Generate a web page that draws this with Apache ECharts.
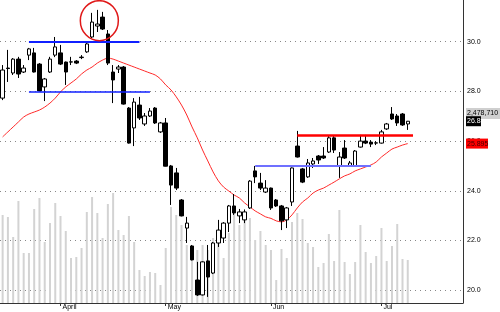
<!DOCTYPE html>
<html>
<head>
<meta charset="utf-8">
<script src="https://cdn.jsdelivr.net/npm/echarts@6/dist/echarts.min.js"></script>
<style>
html,body{margin:0;padding:0;background:#fff;}
#chart{width:500px;height:312px;}
</style>
</head>
<body>
<div id="chart"></div>
<script>
// ---- data ----
var slotCount = 88; // trading-day slots across the axis (data + blank right margin)
var monthStarts = [11, 31, 51, 72];
var monthLabels = ['April', 'May', 'Jun', 'Jul'];

var opens = [27.73,28.94,28.74,29.30,28.78,29.46,29.55,29.10,28.18,28.78,29.46,29.55,29.18,29.18,29.22,29.36,29.59,30.19,30.63,30.99,
  30.31,28.78,28.90,28.98,27.33,26.53,27.45,26.69,27.01,27.33,26.37,26.73,25.00,24.72,23.63,22.50,21.78,20.41,19.81,21.18,
  20.69,21.90,22.10,22.70,23.39,22.99,22.83,23.31,24.80,24.31,23.95,24.11,23.63,23.39,22.83,23.55,25.80,24.88,24.56,25.08,
  25.40,25.40,25.56,26.13,25.00,25.72,25.00,25.00,25.76,26.00,25.96,25.92,25.92,26.49,27.09,27.01,27.09,26.69];
var closes = [28.86,28.92,29.30,28.70,28.94,29.71,28.78,28.02,28.50,29.30,29.79,29.10,28.78,29.19,29.14,29.38,29.91,30.79,30.71,30.51,
  29.14,28.46,28.98,27.49,25.92,27.57,26.93,27.01,27.21,26.73,26.73,24.99,24.23,24.11,22.99,22.70,21.22,19.81,21.14,20.53,
  21.90,22.42,22.70,23.39,23.11,23.15,23.15,24.39,24.56,24.11,24.11,23.31,23.39,22.79,23.31,24.92,25.36,24.35,25.12,25.20,
  25.24,25.32,26.13,25.64,25.36,25.32,25.12,25.60,26.00,25.92,25.88,25.93,26.37,26.69,26.89,26.73,26.65,26.80];
var lows = [27.65,28.38,28.66,28.54,28.74,29.26,28.76,28.00,27.61,28.74,29.38,29.06,28.26,29.06,29.10,29.30,29.55,30.15,30.39,30.47,
  29.06,27.53,28.74,27.47,25.90,25.80,26.85,26.61,26.97,26.69,26.33,24.98,23.43,24.03,22.97,21.90,21.20,19.77,19.79,19.73,
  20.65,21.74,21.90,22.34,23.03,22.70,22.70,23.27,24.31,24.03,23.91,23.23,23.35,22.42,22.50,23.39,25.34,24.31,24.52,24.92,
  25.08,25.28,25.52,25.52,24.52,25.28,24.96,24.98,25.74,25.88,25.76,25.84,25.90,26.45,26.85,26.61,26.61,26.45];
var highs = [29.06,29.67,29.34,29.39,29.06,29.75,29.75,29.14,28.54,29.39,30.19,29.87,29.20,29.39,29.26,29.46,29.99,31.16,31.28,31.20,
  30.47,29.06,29.06,29.02,27.37,27.73,27.78,27.13,27.33,27.37,26.77,26.93,25.04,24.92,23.67,22.95,21.82,21.14,21.16,21.82,
  21.94,22.83,22.74,23.43,23.87,23.27,23.25,24.43,25.00,24.72,24.43,24.13,23.67,23.43,23.35,24.94,26.41,24.92,25.28,25.32,
  25.44,25.76,26.21,26.21,25.56,26.04,25.20,25.64,26.25,26.25,26.04,26.00,26.45,26.73,27.37,27.09,27.13,26.81];
var movingAvg = [26.17,26.37,26.57,26.77,26.97,27.09,27.17,27.25,27.37,27.53,27.73,27.98,28.18,28.34,28.50,28.70,28.86,28.98,29.14,29.26,
  29.34,29.30,29.22,29.14,29.06,28.98,28.90,28.82,28.74,28.66,28.50,28.26,28.06,27.78,27.45,27.05,26.57,26.13,25.64,25.20,
  24.76,24.40,24.15,23.99,23.83,23.71,23.51,23.35,23.19,23.07,22.95,22.89,22.79,22.75,22.83,23.03,23.31,23.55,23.71,23.91,
  24.03,24.11,24.23,24.35,24.48,24.60,24.68,24.80,24.88,24.96,25.04,25.16,25.36,25.52,25.68,25.76,25.84,25.90];
var volumes = [8.8,8.6,6.6,10.2,5.0,5.0,9.4,10.5,6.1,8.0,10.0,8.7,7.2,4.5,4.6,5.5,9.1,10.6,9.0,6.5,
  9.9,11.0,7.3,6.8,8.7,6.1,3.3,2.7,3.1,3.0,1.8,5.5,9.6,8.8,7.8,5.8,4.8,5.3,5.8,5.3,
  6.5,6.3,4.5,7.0,9.0,7.8,8.3,8.5,6.3,7.2,5.8,5.3,2.3,5.4,4.5,8.1,9.0,8.4,6.0,5.6,
  3.6,4.0,6.9,4.2,9.3,4.1,2.9,4.1,7.8,5.1,4.0,4.7,7.5,4.2,5.7,7.9,4.4,4.3];
var priceMin = 19.485, priceMax = 31.678; // visible price range of the panel
var volumeMax = 30.3;
var lastVolumeText = '2,478,710';
var maLastText = '25.895';

// horizontal annotation lines: [startIdx, endIdx, value, colour, width]
var levelLines = [
  [5, 26, 30.0, '#1020ff', 2],
  [5, 28, 28.0, '#1020ff', 1.5],
  [48, 70, 25.0, '#6f70ff', 2],
  [56, 78, 26.22, '#ff0000', 2.5]
];
var circleCenter = [18, 30.845]; // [slot index, price]

// ---- build ----
var categories = [];
for (var i = 0; i < slotCount; i++) categories.push(String(i));
var candleData = opens.map(function (o, i) { return [o, closes[i], lows[i], highs[i]]; });
var monthMap = {};
monthStarts.forEach(function (s, i) { monthMap[s] = monthLabels[i]; });

var FONT = 'Liberation Sans, Arial, sans-serif';
var chart = echarts.init(document.getElementById('chart'), null, {renderer: 'canvas'});

var markData = levelLines.map(function (l) {
  return [
    {coord: [l[0], l[2]], lineStyle: {color: l[3], width: l[4], type: 'solid'}},
    {coord: [l[1], l[2]]}
  ];
});

chart.setOption({
  animation: false,
  backgroundColor: '#fff',
  grid: [
    {left: -2.9, right: 37, top: 0, bottom: 9},
    {left: -2.9, right: 37, top: 0, bottom: 9}
  ],
  xAxis: [
    {
      type: 'category', gridIndex: 0, data: categories, boundaryGap: true,
      axisLine: {show: true, lineStyle: {color: '#333', width: 1}},
      axisTick: {show: true, alignWithLabel: true, length: 3, lineStyle: {color: '#333'},
        interval: function (idx) { return monthMap[idx] !== undefined; }},
      axisLabel: {show: true, margin: 1, fontSize: 7, color: '#000', fontFamily: FONT, align: 'left',
        padding: [0, 0, 0, 2],
        interval: function (idx) { return monthMap[idx] !== undefined; },
        formatter: function (v, idx) { return monthMap[idx] || ''; }},
      splitLine: {show: false}
    },
    {
      type: 'category', gridIndex: 1, data: categories, boundaryGap: true,
      axisLine: {show: false}, axisTick: {show: false}, axisLabel: {show: false}, splitLine: {show: false}
    }
  ],
  yAxis: [
    {
      type: 'value', gridIndex: 0, position: 'right', min: 0, max: volumeMax,
      axisLine: {show: true, lineStyle: {color: '#333', width: 1}},
      axisTick: {show: false}, axisLabel: {show: false}, splitLine: {show: false}
    },
    {
      type: 'value', gridIndex: 1, position: 'right', min: priceMin, max: priceMax, splitNumber: 6,
      axisLine: {show: false}, axisTick: {show: false},
      axisLabel: {show: true, margin: 4, fontSize: 7, color: '#000', fontFamily: FONT,
        showMinLabel: false, showMaxLabel: false,
        formatter: function (v) { return v.toFixed(1); }},
      splitLine: {show: true, showMinLine: false, showMaxLine: false,
        lineStyle: {color: '#888', width: 1, type: [1, 4]}}
    }
  ],
  series: [
    {
      type: 'bar', name: 'Volume', xAxisIndex: 0, yAxisIndex: 0, data: volumes,
      barWidth: 2, itemStyle: {color: '#d3d3d3'}, silent: true, z: 1
    },
    {
      type: 'line', name: 'MA', xAxisIndex: 1, yAxisIndex: 1, data: movingAvg,
      symbol: 'none', smooth: 0.3, lineStyle: {color: '#ff2a2a', width: 1}, silent: true, z: 2
    },
    {
      type: 'candlestick', name: 'Price', xAxisIndex: 1, yAxisIndex: 1, data: candleData,
      barWidth: 4, silent: true, z: 3,
      itemStyle: {color: '#ffffff', color0: '#000000', borderColor: '#000000', borderColor0: '#000000', borderWidth: 1},
      markLine: {silent: true, symbol: 'none', label: {show: false}, z: 5, data: markData}
    }
  ]
});

function drawOverlays() {
  var yLast = chart.convertToPixel({yAxisIndex: 1}, closes[closes.length - 1]);
  var yMa = chart.convertToPixel({yAxisIndex: 1}, movingAvg[movingAvg.length - 1]);
  var c = chart.convertToPixel({xAxisIndex: 1, yAxisIndex: 1}, circleCenter);
  chart.setOption({
    graphic: [
      {type: 'ellipse', shape: {cx: c[0] + 2, cy: c[1], rx: 19, ry: 20}, style: {fill: 'none', stroke: '#e01818', lineWidth: 1.5}, z: 10},
      {type: 'rect', shape: {x: 466, y: 108, width: 34, height: 11}, style: {fill: '#cfcfcf'}, z: 10},
      {type: 'text', x: 467, y: 113.5, style: {text: lastVolumeText, fontSize: 7, fontFamily: FONT, fill: '#000', verticalAlign: 'middle'}, z: 11},
      {type: 'rect', shape: {x: 466, y: yLast - 5, width: 15, height: 10}, style: {fill: '#000'}, z: 10},
      {type: 'text', x: 467, y: yLast, style: {text: closes[closes.length - 1].toFixed(1), fontSize: 7, fontFamily: FONT, fill: '#fff', verticalAlign: 'middle'}, z: 11},
      {type: 'rect', shape: {x: 466, y: yMa - 5, width: 22, height: 10}, style: {fill: '#ff0000'}, z: 10},
      {type: 'text', x: 467, y: yMa, style: {text: maLastText, fontSize: 7, fontFamily: FONT, fill: '#400', verticalAlign: 'middle'}, z: 11}
    ]
  });
}
drawOverlays();
</script>
</body>
</html>
